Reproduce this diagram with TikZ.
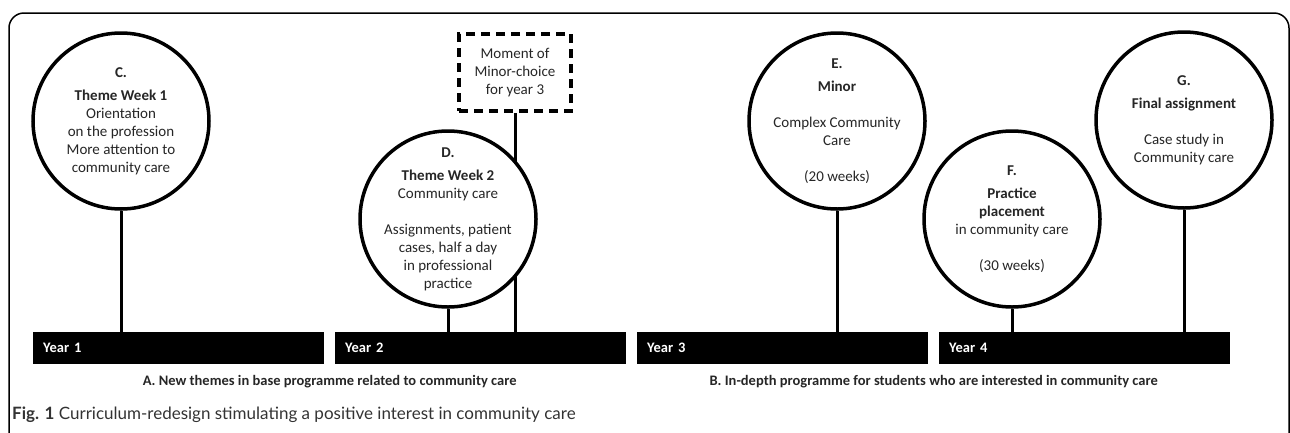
\documentclass[tikz,border=0pt]{standalone}
\usepackage{fontspec}
\setmainfont{Carlito}
\newfontfamily\capfont{Lato}
\usetikzlibrary{positioning,calc}
\tikzstyle{bubble} = [draw, circle, line width=3.5pt, fill=white, minimum size=176pt, inner sep=0pt]
\tikzstyle{bubbletext} = [align=center, text=black!85, inner sep=0pt, font=\fontsize{15}{18}\selectfont]
\tikzstyle{yearbar} = [fill=black, text=white, anchor=north west, minimum height=32pt, inner xsep=10pt, text width=271pt, align=left, font=\fontsize{14.5}{17}\selectfont\bfseries]
\tikzstyle{stem} = [line width=3pt]
\tikzstyle{choice} = [draw, line width=4pt, dash pattern=on 9pt off 6pt, minimum width=112pt, minimum height=77pt, align=center, text=black!85, font=\fontsize{15}{18}\selectfont]
\tikzstyle{capt} = [inner sep=0pt, text=black!85, font=\fontsize{14.5}{17}\selectfont\bfseries]

\begin{document}
\begin{tikzpicture}[x=1pt,y=-1pt]

		\useasboundingbox (0,0) rectangle (1290,432);
		\draw [line width=1.5pt, rounded corners=15pt] (9,445) -- (9,13) -- (1289,13) -- (1289,445);

		\foreach \n/\x in {1/33,2/335,3/637,4/939}
			\node[yearbar] (y\n) at (\x,332) {Year \n};

		\node[choice] (minor) at (515,72.5) {Moment of\\Minor-choice\\for year 3};
		\draw[stem] (minor.south) -- (minor.south |- y2.north);

		\node[bubble] (c) at (121,121) {};
		\node[bubble] (d) at (448,219) {};
		\node[bubble] (e) at (837,121) {};
		\node[bubble] (f) at (1012,219) {};
		\node[bubble] (g) at (1184,120) {};

		\foreach \b/\y in {c/1,d/2,e/3,f/4,g/4}
			\draw[stem] (\b.south) -- (\b.south |- y\y.north);

		\node[bubbletext] (c-text) at (c) {\textbf{C.}\\[5pt]\textbf{Theme Week 1}\\Orientation\\on the profession\\More attention to\\community care};
		\node[bubbletext] (d-text) at (d) {\textbf{D.}\\[5pt]\textbf{Theme Week 2}\\Community care\\[18pt]Assignments, patient\\cases, half a day\\in professional\\practice};
		\node[bubbletext] (e-text) at (e) {\textbf{E.}\\[5pt]\textbf{Minor}\\[18pt]Complex Community\\Care\\[18pt](20 weeks)};
		\node[bubbletext] (f-text) at (f) {\textbf{F.}\\[5pt]\textbf{Practice}\\\textbf{placement}\\in community care\\[18pt](30 weeks)};
		\node[bubbletext] (g-text) at (g) {\textbf{G.}\\[5pt]\textbf{Final assignment}\\[18pt]Case study in\\Community care};

		\coordinate (amid) at ($(y1.south west)!0.5!(y2.south east)$);
		\coordinate (bmid) at ($(y3.south west)!0.5!(y4.south east)$);
		\node[capt, below=11pt of amid] (capa) {A. New themes in base programme related to community care};
		\node[capt, below=11pt of bmid] (capb) {B. In-depth programme for students who are interested in community care};

		\node[anchor=base west, inner sep=0pt, text=black!80, font=\capfont\fontsize{17}{20}\selectfont] (fig) at (12,419) {\textbf{Fig. 1} Curriculum-redesign stimulating a positive interest in community care};

\end{tikzpicture}
\end{document}
